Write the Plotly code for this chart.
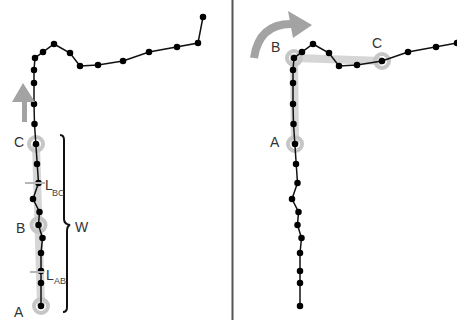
import plotly.graph_objects as go

H = 320  # drawing height (units map 1:1 to pixels)

# Trajectory (x right, screen-y down; converted to y-up below), from point A upward
traj_x = [41, 41, 41, 41, 42.5, 38.5, 39.5, 33, 38.5, 37, 36, 34.5, 34, 34, 34, 35,
          43, 54, 70, 80, 98, 123, 149, 177, 198, 203]
traj_sy = [306, 283, 271, 253, 238, 225, 212, 199, 183, 164, 144, 124, 104, 83, 70, 58,
           52, 44, 53, 66, 65, 61, 52, 47, 43, 17]
traj_y = [H - v for v in traj_sy]

# Highlighted points (indices into trajectory)
left_marks = {"A": 0, "B": 5, "C": 10}
right_marks = {"A": 10, "B": 15, "C": 21}

# Label positions (screen units)
left_label_pos = {"C": (19, 142), "B": (20, 228), "A": (19, 312)}
right_label_pos = {"B": (16, 47), "A": (16, 142), "C": (118, 43)}

RIGHT_SHIFT = 259
LEFT_W = 232.5
W = 457

BAND = "#d6d6d6"
RING = "#c6c6c6"
ARROW = "#a3a3a3"
TXT = "#333333"

fig = go.Figure()


def add_panel(xa, ya, band_idx, marks):
    bx = [traj_x[i] for i in band_idx]
    by = [traj_y[i] for i in band_idx]
    fig.add_trace(go.Scatter(x=bx, y=by, mode="lines", xaxis=xa, yaxis=ya,
                             line=dict(color=BAND, width=8), hoverinfo="skip"))
    mx = [traj_x[i] for i in marks.values()]
    my = [traj_y[i] for i in marks.values()]
    fig.add_trace(go.Scatter(x=mx, y=my, mode="markers", xaxis=xa, yaxis=ya,
                             marker=dict(symbol="circle-open", size=14, color=RING,
                                         line=dict(color=RING, width=4)),
                             hoverinfo="skip"))
    fig.add_trace(go.Scatter(x=traj_x, y=traj_y, mode="lines+markers", xaxis=xa, yaxis=ya,
                             line=dict(color="#111111", width=1.5),
                             marker=dict(color="#000000", size=6.5), hoverinfo="skip"))


add_panel("x", "y", [left_marks["A"], left_marks["C"]], left_marks)
add_panel("x2", "y", [right_marks["A"], right_marks["B"], right_marks["C"]], right_marks)


def P(pts, cmds):
    """Build an SVG path from screen-unit points; y converted to y-up."""
    out = []
    k = 0
    for c in cmds:
        if c == "Z":
            out.append("Z")
            continue
        n = 2 if c == "Q" else 1
        seg = []
        for _ in range(n):
            x, sy = pts[k]
            k += 1
            seg.append(f"{x},{H - sy}")
        out.append(c + " " + " ".join(seg))
    return " ".join(out)


shapes = []
# divider
shapes.append(dict(type="line", xref="paper", yref="paper", x0=LEFT_W / W, x1=LEFT_W / W,
                   y0=0, y1=1, line=dict(color="#555555", width=2)))
# left straight arrow (upward)
shapes.append(dict(type="path", xref="x", yref="y",
                   path=P([(22, 122), (27, 122), (27, 102), (35, 102), (23, 83), (12, 102), (22, 102)],
                          ["M", "L", "L", "L", "L", "L", "L", "Z"]),
                   fillcolor=ARROW, line=dict(width=0)))
# right curved arrow (x2 coordinates = screen - shift)
s = RIGHT_SHIFT
shapes.append(dict(type="path", xref="x2", yref="y",
                   path=P([(254 - s, 58), (259 - s, 24), (291 - s, 24)], ["M", "Q"]),
                   line=dict(color=ARROW, width=8)))
shapes.append(dict(type="path", xref="x2", yref="y",
                   path=P([(288 - s, 11), (312 - s, 25), (293 - s, 38)], ["M", "L", "L", "Z"]),
                   fillcolor=ARROW, line=dict(width=0)))
# brace W
shapes.append(dict(type="path", xref="x", yref="y",
                   path=P([(60, 135), (64, 135), (64, 140), (64, 219), (64, 224), (70, 225),
                           (67, 226), (67, 231), (67, 307), (67, 312), (63, 312)],
                          ["M", "Q", "L", "Q", "Q", "L", "Q"]),
                   line=dict(color="#111111", width=2)))
# L ticks
shapes.append(dict(type="line", xref="x", yref="y", x0=25, x1=45, y0=H - 183, y1=H - 183,
                   line=dict(color="#b5b5b5", width=2)))
shapes.append(dict(type="line", xref="x", yref="y", x0=30, x1=44, y0=H - 272, y1=H - 272,
                   line=dict(color="#b5b5b5", width=2)))

ann = []
font = dict(family="Liberation Sans, Arial, sans-serif", size=14, color=TXT)
small = dict(family="Liberation Sans, Arial, sans-serif", size=9, color="#444444")
for k, (x, sy) in left_label_pos.items():
    ann.append(dict(x=x, y=H - sy, xref="x", yref="y", text=k, showarrow=False, font=font))
for k, (x, sy) in right_label_pos.items():
    ann.append(dict(x=x, y=H - sy, xref="x2", yref="y", text=k, showarrow=False, font=font))
ann.append(dict(x=82, y=H - 227, xref="x", yref="y", text="W", showarrow=False, font=font))
# L labels with subscripts
for (xl, xs, sy_main, sy_sub, sub) in [(42.5, 50, 185, 193, "BC"), (44, 51.5, 275, 281, "AB")]:
    ann.append(dict(x=xl, y=H - sy_main, xref="x", yref="y", text="L", showarrow=False,
                    font=font, xanchor="left"))
    ann.append(dict(x=xs, y=H - sy_sub, xref="x", yref="y", text=sub, showarrow=False,
                    font=small, xanchor="left"))

ax = dict(visible=False, showgrid=False, zeroline=False, fixedrange=True)
fig.update_layout(
    width=457, height=320,
    margin=dict(l=0, r=0, t=0, b=0),
    paper_bgcolor="white", plot_bgcolor="white",
    showlegend=False,
    xaxis=dict(domain=[0, LEFT_W / W], range=[0, LEFT_W], **ax),
    xaxis2=dict(domain=[LEFT_W / W, 1], range=[LEFT_W - RIGHT_SHIFT, W - RIGHT_SHIFT],
                anchor="y", **ax),
    yaxis=dict(domain=[0, 1], range=[0, H], **ax),
    shapes=shapes,
    annotations=ann,
)

fig.write_html("out.html")
